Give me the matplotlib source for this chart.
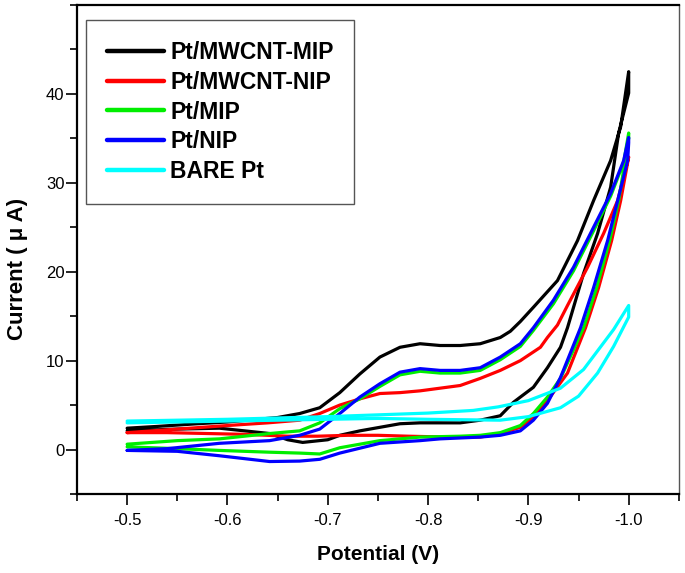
import matplotlib
matplotlib.use('Agg')
from matplotlib import pyplot as plt
from matplotlib.ticker import MultipleLocator

# forward scan (-0.5 -> -1.0) and reverse scan (-1.0 -> -0.5)
mwcnt_mip_fx = [-0.50, -0.53, -0.57, -0.60, -0.63, -0.65, -0.672, -0.692, -0.712, -0.732, -0.752, -0.772,
                -0.792, -0.812, -0.832, -0.852, -0.872, -0.882, -0.892, -0.905, -0.929, -0.949, -0.965,
                -0.982, -0.992, -1.00]
mwcnt_mip_fy = [2.4, 2.6, 2.9, 3.1, 3.4, 3.6, 4.05, 4.7, 6.4, 8.5, 10.4, 11.5,
                11.9, 11.7, 11.7, 11.9, 12.6, 13.3, 14.4, 16.0, 19.0, 23.5, 28.0,
                32.5, 36.3, 42.5]
mwcnt_mip_rx = [-1.00, -0.99, -0.982, -0.969, -0.955, -0.939, -0.932, -0.919, -0.905, -0.892, -0.885,
                -0.872, -0.852, -0.832, -0.812, -0.792, -0.772, -0.752, -0.732, -0.712, -0.70, -0.675,
                -0.66, -0.642, -0.592, -0.55, -0.50]
mwcnt_mip_ry = [40.1, 35.6, 29.5, 24.3, 19.8, 13.7, 11.5, 9.2, 7.0, 5.9, 5.3,
                3.8, 3.3, 3.0, 3.0, 3.0, 2.9, 2.5, 2.1, 1.6, 1.1, 0.8,
                1.1, 1.8, 2.4, 2.3, 2.1]

mwcnt_nip_fx = [-0.50, -0.55, -0.60, -0.64, -0.672, -0.692, -0.712, -0.732, -0.752, -0.772, -0.792,
                -0.812, -0.832, -0.852, -0.872, -0.892, -0.912, -0.919, -0.929, -0.939, -0.959, -0.975,
                -0.989, -1.00]
mwcnt_nip_fy = [1.9, 2.3, 2.7, 3.0, 3.3, 4.05, 5.0, 5.7, 6.3, 6.4, 6.6,
                6.9, 7.2, 8.0, 8.9, 10.0, 11.5, 12.6, 14.0, 16.2, 20.5, 24.3,
                28.0, 32.9]
mwcnt_nip_rx = [-1.00, -0.992, -0.983, -0.970, -0.957, -0.939, -0.919, -0.905, -0.892, -0.872, -0.852,
                -0.82, -0.78, -0.75, -0.72, -0.69, -0.66, -0.62, -0.58, -0.54, -0.50]
mwcnt_nip_ry = [32.9, 28.0, 23.5, 18.2, 13.7, 8.6, 5.5, 3.6, 2.5, 1.8, 1.4,
                1.4, 1.5, 1.6, 1.6, 1.5, 1.5, 1.7, 1.8, 1.9, 1.9]

mip_fx = [-0.50, -0.55, -0.592, -0.642, -0.672, -0.692, -0.712, -0.732, -0.752, -0.772, -0.792,
          -0.812, -0.832, -0.852, -0.872, -0.892, -0.905, -0.925, -0.945, -0.965, -0.982, -0.995, -1.00]
mip_fy = [0.6, 1.0, 1.2, 1.8, 2.1, 3.0, 4.6, 5.7, 7.1, 8.4, 8.8,
          8.6, 8.6, 8.9, 10.1, 11.6, 13.4, 16.4, 20.1, 24.6, 28.5, 32.3, 35.6]
mip_rx = [-1.00, -0.99, -0.981, -0.968, -0.955, -0.932, -0.919, -0.905, -0.892, -0.872, -0.852,
          -0.832, -0.792, -0.752, -0.712, -0.692, -0.672, -0.642, -0.592, -0.55, -0.50]
mip_ry = [35.0, 28.0, 23.5, 18.2, 13.7, 8.0, 5.9, 4.05, 2.7, 1.9, 1.6,
          1.5, 1.4, 1.0, 0.2, -0.5, -0.4, -0.3, -0.1, 0.1, 0.3]

nip_fx = [-0.50, -0.54, -0.592, -0.642, -0.672, -0.692, -0.712, -0.732, -0.752, -0.772, -0.792,
          -0.812, -0.832, -0.852, -0.872, -0.892, -0.905, -0.925, -0.945, -0.965, -0.982, -0.995, -1.00]
nip_fy = [-0.1, 0.1, 0.7, 1.0, 1.6, 2.3, 4.05, 5.9, 7.4, 8.7, 9.1,
          8.9, 8.9, 9.2, 10.4, 11.9, 13.7, 16.8, 20.5, 25.0, 28.8, 32.5, 35.1]
nip_rx = [-1.00, -0.999, -0.989, -0.979, -0.965, -0.952, -0.932, -0.919, -0.905, -0.892, -0.872,
          -0.852, -0.812, -0.792, -0.752, -0.712, -0.692, -0.672, -0.642, -0.592, -0.55, -0.50]
nip_ry = [34.5, 32.5, 28.0, 23.5, 18.2, 13.7, 8.1, 5.2, 3.3, 2.1, 1.6,
          1.4, 1.2, 1.0, 0.7, -0.4, -1.1, -1.3, -1.35, -0.7, -0.2, -0.1]

bare_fx = [-0.50, -0.60, -0.70, -0.75, -0.80, -0.845, -0.87, -0.90, -0.932, -0.955, -0.969, -0.985, -1.00]
bare_fy = [3.2, 3.4, 3.7, 3.9, 4.1, 4.4, 4.8, 5.5, 6.9, 9.0, 11.1, 13.5, 16.2]
bare_rx = [-1.00, -0.985, -0.969, -0.95, -0.932, -0.90, -0.872, -0.80, -0.75, -0.70, -0.60, -0.50]
bare_ry = [14.9, 11.6, 8.6, 6.0, 4.7, 3.7, 3.3, 3.4, 3.5, 3.4, 3.2, 3.0]

labels = ['Pt/MWCNT-MIP', 'Pt/MWCNT-NIP', 'Pt/MIP', 'Pt/NIP', 'BARE Pt']
colors = ['#000000', '#ff0000', '#00ee00', '#0000ff', '#00ffff']
curves = [
    (mwcnt_mip_fx, mwcnt_mip_fy, mwcnt_mip_rx, mwcnt_mip_ry),
    (mwcnt_nip_fx, mwcnt_nip_fy, mwcnt_nip_rx, mwcnt_nip_ry),
    (mip_fx, mip_fy, mip_rx, mip_ry),
    (nip_fx, nip_fy, nip_rx, nip_ry),
    (bare_fx, bare_fy, bare_rx, bare_ry),
]

plt.rcParams['font.family'] = ['Liberation Sans', 'DejaVu Sans']

fig = plt.figure(figsize=(6.85, 5.73), dpi=100)
ax = fig.add_axes([0.1124, 0.1379, 0.8786, 0.8534])

for (fx, fy, rx, ry), lab, col in zip(curves, labels, colors):
    ax.plot(fx + rx, fy + ry, color=col, lw=2.3, label=lab,
            solid_joinstyle='round', solid_capstyle='round')

ax.set_xlim(-0.45, -1.05)
ax.set_ylim(-5, 50)
ax.xaxis.set_minor_locator(MultipleLocator(0.05))
ax.yaxis.set_minor_locator(MultipleLocator(5))
ax.set_xticks([-0.5, -0.6, -0.7, -0.8, -0.9, -1.0])
ax.set_xticklabels(['-0.5', '-0.6', '-0.7', '-0.8', '-0.9', '-1.0'])
ax.set_yticks([0, 10, 20, 30, 40])
ax.tick_params(which='major', direction='out', length=8, width=1.2, labelsize=12, top=False, right=False)
ax.tick_params(which='minor', direction='out', length=5, width=1.2, top=False, right=False)
ax.tick_params(axis='x', pad=6)
ax.tick_params(axis='y', pad=1)

for s in ['left', 'bottom', 'top']:
    ax.spines[s].set_linewidth(1.6)
    ax.spines[s].set_color('black')
ax.spines['right'].set_linewidth(1.0)
ax.spines['right'].set_color('#555555')

ax.set_xlabel('Potential (V)', fontsize=15, fontweight='bold', labelpad=12)
ax.set_ylabel('Current ( μ A)', fontsize=16, fontweight='bold')
ax.yaxis.set_label_coords(-0.082, 0.46)

leg = ax.legend(loc='upper left', bbox_to_anchor=(0.015, 0.969), borderaxespad=0,
                prop={'weight': 'bold', 'size': 16.5}, handlelength=2.5, handletextpad=0.28,
                labelspacing=0.3, borderpad=0.9, fancybox=False, framealpha=1)
leg.get_frame().set_edgecolor('#555555')
leg.get_frame().set_linewidth(1.0)
for line in leg.get_lines():
    line.set_linewidth(3.2)

fig.savefig('out.png', dpi=100)
